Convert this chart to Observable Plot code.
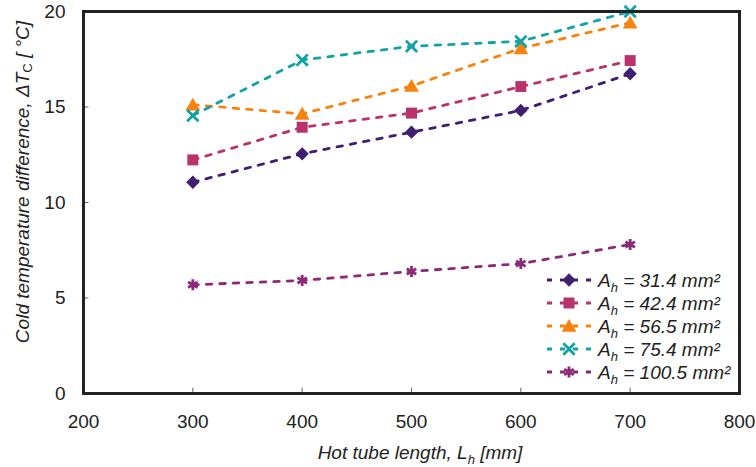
<!DOCTYPE html>
<html>
<head>
<meta charset="utf-8">
<script src="https://cdn.jsdelivr.net/npm/d3@7"></script>
<script src="https://cdn.jsdelivr.net/npm/@observablehq/plot@0.6"></script>
<style>
  html, body { margin: 0; padding: 0; background: #fff; }
  #chart { position: relative; width: 756px; height: 467px; }
</style>
</head>
<body>
<div id="chart"></div>
<script>
// ---- data ----
const lengths = [300, 400, 500, 600, 700];
const areas = ["31.4", "42.4", "56.5", "75.4", "100.5"];
const dT_31_4  = [11.06, 12.55, 13.68, 14.82, 16.74];
const dT_42_4  = [12.23, 13.94, 14.68, 16.07, 17.43];
const dT_56_5  = [15.12, 14.64, 16.10, 18.07, 19.41];
const dT_75_4  = [14.55, 17.46, 18.18, 18.44, 20.0];
const dT_100_5 = [5.69, 5.92, 6.39, 6.80, 7.80];
const xTicks = [200, 300, 400, 500, 600, 700, 800];
const yTicks = [0, 5, 10, 15, 20];

const seriesColors  = ["#3f1f70", "#b8336c", "#f7830f", "#10a3a6", "#8c2a7a"];
const seriesSymbols = ["diamond2", "square", "triangle", "times", "asterisk"];
const seriesFilled  = [true, true, true, false, false];

const allValues = [dT_31_4, dT_42_4, dT_56_5, dT_75_4, dT_100_5];
const rows = [];
areas.forEach((a, i) => lengths.forEach((L, j) => rows.push({series: a, L, dT: allValues[i][j]})));

const FONT = "'Liberation Sans', Arial, sans-serif";
const dash = "5.5,8";

const marks = [
  Plot.line(rows, {x: "L", y: "dT", z: "series", stroke: "series", strokeWidth: 2.8, strokeDasharray: dash}),
  Plot.ruleX(xTicks.slice(1, -1), {y1: 0, y2: 0.28, stroke: "#666", strokeWidth: 1}),
  Plot.ruleY(yTicks.slice(1, -1), {x1: 200, x2: 205, stroke: "#666", strokeWidth: 1}),
];
areas.forEach((a, i) => {
  const data = rows.filter(d => d.series === a);
  const opts = {x: "L", y: "dT", symbol: "series", dy: seriesSymbols[i] === "triangle" ? 1.5 : 0};
  if (seriesFilled[i]) {
    marks.push(Plot.dot(data, {...opts, fill: "series", stroke: "none",
      r: seriesSymbols[i] === "square" ? 6.2 : seriesSymbols[i] === "triangle" ? 5.5 : 6}));
  } else {
    marks.push(Plot.dot(data, {...opts, stroke: "series", fill: "none", strokeWidth: 2.8, r: 5.2}));
  }
});
marks.push(
  Plot.axisX({ticks: xTicks, tickSize: 0, tickPadding: 21, tickFormat: d => d, label: null, fontSize: 19}),
  Plot.axisY({ticks: yTicks, tickSize: 0, tickPadding: 18, tickFormat: d => d, label: null, fontSize: 19}),
  Plot.frame({stroke: "#222", strokeWidth: 3})
);

const chart = Plot.plot({
  width: 756, height: 467,
  marginLeft: 83, marginRight: 17, marginTop: 11, marginBottom: 74,
  style: {fontFamily: FONT, fontSize: "19px", color: "#222", background: "#fff", overflow: "visible"},
  x: {domain: [200, 800]},
  y: {domain: [0, 20]},
  color: {domain: areas, range: seriesColors},
  symbol: {domain: areas, range: seriesSymbols},
  marks
});
document.getElementById("chart").appendChild(chart);

const svg = d3.select(chart);
// axis labels
const yl = svg.append("text")
  .attr("transform", "translate(24,182) rotate(-90)")
  .attr("text-anchor", "middle").attr("dominant-baseline", "middle")
  .attr("font-family", FONT).attr("font-size", 19).attr("fill", "#222").attr("font-style", "italic");
yl.append("tspan").text("Cold temperature difference, ΔT");
yl.append("tspan").text("C").attr("font-style", "normal").attr("font-size", 13).attr("dy", 5);
yl.append("tspan").text(" [ °C]").attr("dy", -5);

const xl = svg.append("text")
  .attr("x", 420).attr("y", 459).attr("text-anchor", "middle")
  .attr("font-family", FONT).attr("font-size", 19).attr("fill", "#222").attr("font-style", "italic");
xl.append("tspan").text("Hot tube length, L");
xl.append("tspan").text("h").attr("font-size", 13).attr("dy", 5);
xl.append("tspan").text(" [mm]").attr("dy", -5);

// legend
const symMap = {diamond2: d3.symbolDiamond2, square: d3.symbolSquare, triangle: d3.symbolTriangle, times: d3.symbolTimes, asterisk: d3.symbolAsterisk};
const lg = svg.append("g");
areas.forEach((a, i) => {
  const cy = 280 + i * 23;
  const g = lg.append("g").attr("transform", `translate(0,${cy})`);
  g.append("line").attr("x1", 547).attr("x2", 592).attr("y1", 0).attr("y2", 0)
    .attr("stroke", seriesColors[i]).attr("stroke-width", 2.8).attr("stroke-dasharray", "5,8");
  const sym = seriesSymbols[i];
  const rr = sym === "square" ? 6.2 : sym === "triangle" ? 5.5 : 6;
  const p = g.append("path").attr("transform", `translate(569,${sym === "triangle" ? 1.5 : 0})`)
    .attr("d", d3.symbol(symMap[sym], seriesFilled[i] ? Math.PI * rr * rr : Math.PI * 5.2 * 5.2)());
  if (seriesFilled[i]) p.attr("fill", seriesColors[i]);
  else p.attr("fill", "none").attr("stroke", seriesColors[i]).attr("stroke-width", 2.8);
  const t = g.append("text").attr("x", 598).attr("y", 0).attr("dy", "0.35em").attr("text-anchor", "start")
    .attr("font-family", FONT).attr("font-size", 19).attr("fill", "#222").attr("font-style", "italic");
  t.append("tspan").text("A");
  t.append("tspan").text("h").attr("font-size", 13).attr("dy", 5);
  t.append("tspan").text(` = ${a} mm²`).attr("dy", -5);
});
</script>
</body>
</html>
